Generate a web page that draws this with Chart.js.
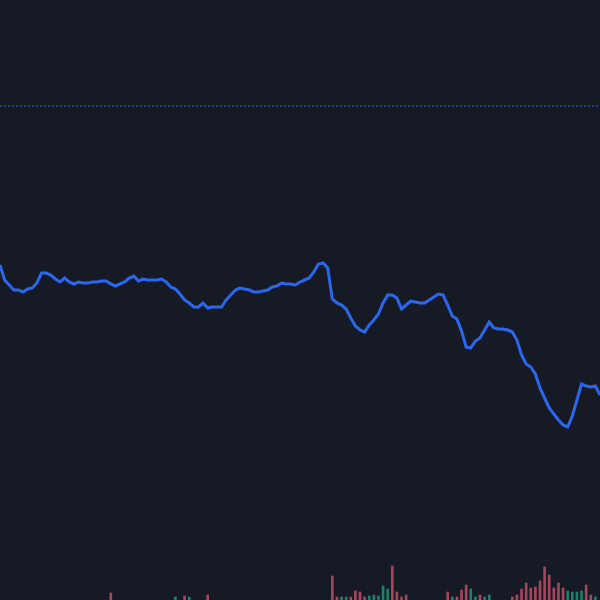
<!DOCTYPE html>
<html>
<head>
<meta charset="utf-8">
<script src="https://cdn.jsdelivr.net/npm/chart.js@4/dist/chart.umd.min.js"></script>
<style>
  html, body { margin: 0; padding: 0; background: #161a25; }
  #wrap { width: 600px; height: 600px; }
</style>
</head>
<body>
<div id="wrap"><canvas id="priceChart" width="600" height="600"></canvas></div>
<script>
// price, one point per bar slot
const prices = [
  33.5, 32.0, 31.5, 31.0, 31.0, 30.8, 31.1, 31.2, 31.7, 32.7,
  32.7, 32.5, 32.1, 31.8, 32.2, 31.8, 31.6, 31.8, 31.7, 31.7,
  31.8, 31.8, 31.9, 31.9, 31.6, 31.4, 31.6, 31.8, 32.2, 32.4,
  31.9, 32.1, 32.0, 32.0, 32.0, 32.1, 31.8, 31.3, 31.1, 30.6,
  30.0, 29.7, 29.3, 29.3, 29.7, 29.2, 29.3, 29.3, 29.3, 30.0,
  30.5, 31.0, 31.2, 31.1, 31.0, 30.8, 30.8, 30.9, 31.0, 31.3,
  31.4, 31.7, 31.6, 31.6, 31.5, 31.8, 32.0, 32.2, 32.8, 33.6,
  33.7, 33.2, 30.1, 29.7, 29.5, 29.1, 28.2, 27.4, 27.0, 26.8,
  27.5, 28.0, 28.6, 29.7, 30.5, 30.5, 30.2, 29.1, 29.5, 29.9,
  29.8, 29.7, 29.7, 30.0, 30.3, 30.6, 30.5, 29.5, 28.4, 28.1,
  26.9, 25.3, 25.2, 25.9, 26.2, 27.0, 27.8, 27.2, 27.1, 27.1,
  27.0, 26.8, 26.0, 24.5, 23.6, 23.3, 22.6, 21.2, 20.2, 19.2,
  18.6, 18.0, 17.5, 17.3, 18.4, 20.0, 21.6, 21.4, 21.3, 21.4,
  20.5
];

// volume bars: [slot, volume, side]  (side: 1 up, -1 down)
const volumeBars = [
  [24, 35, -1], [38, 15, 1], [40, 20, -1], [41, 15, 1], [45, 25, -1],
  [72, 120, -1], [73, 15, -1], [74, 15, 1], [75, 15, 1], [76, 15, -1],
  [77, 45, -1], [78, 40, -1], [79, 15, -1], [80, 20, 1], [81, 25, 1],
  [82, 20, 1], [83, 70, 1], [84, 55, 1], [85, 170, -1], [86, 40, -1],
  [87, 15, -1], [88, 25, -1],
  [97, 40, -1], [98, 15, 1], [99, 15, -1], [100, 50, -1], [101, 75, -1],
  [102, 55, 1], [103, 15, 1], [104, 25, -1], [105, 15, 1], [106, 25, 1],
  [111, 15, -1], [112, 25, -1], [113, 55, -1], [114, 85, -1], [115, 60, -1],
  [116, 65, -1], [117, 95, -1], [118, 165, -1], [119, 125, -1], [120, 60, -1],
  [121, 85, -1], [122, 60, -1], [123, 45, 1], [124, 40, 1], [125, 40, 1],
  [126, 45, 1], [127, 75, -1], [128, 25, -1], [129, 15, 1]
];

const refLevel = 49.4;

const labels = prices.map((_, i) => i);
const volume = prices.map(() => null);
const volColors = prices.map(() => 'transparent');
volumeBars.forEach(([slot, v, side]) => {
  volume[slot] = v;
  volColors[slot] = side > 0 ? '#1f7f6b' : '#a7455c';
});

const ctx = document.getElementById('priceChart').getContext('2d');

new Chart(ctx, {
  data: {
    labels: labels,
    datasets: [
      {
        type: 'line',
        data: prices,
        borderColor: '#2d66ee',
        borderWidth: 3,
        pointRadius: 0,
        tension: 0,
        yAxisID: 'y',
        order: 1
      },
      {
        type: 'line',
        data: labels.map(() => refLevel),
        borderColor: '#2c4b9c',
        borderWidth: 1.5,
        borderDash: [2, 2],
        pointRadius: 0,
        yAxisID: 'y',
        order: 2
      },
      {
        type: 'bar',
        data: volume,
        backgroundColor: volColors,
        barThickness: 2,
        yAxisID: 'vol',
        order: 3
      }
    ]
  },
  options: {
    responsive: false,
    animation: false,
    layout: { padding: 0 },
    plugins: {
      legend: { display: false },
      tooltip: { enabled: false }
    },
    scales: {
      x: { display: false, offset: false },
      y: { display: false, min: 0, max: 60 },
      vol: { display: false, min: 0, max: 3000 }
    }
  }
});
</script>
</body>
</html>
